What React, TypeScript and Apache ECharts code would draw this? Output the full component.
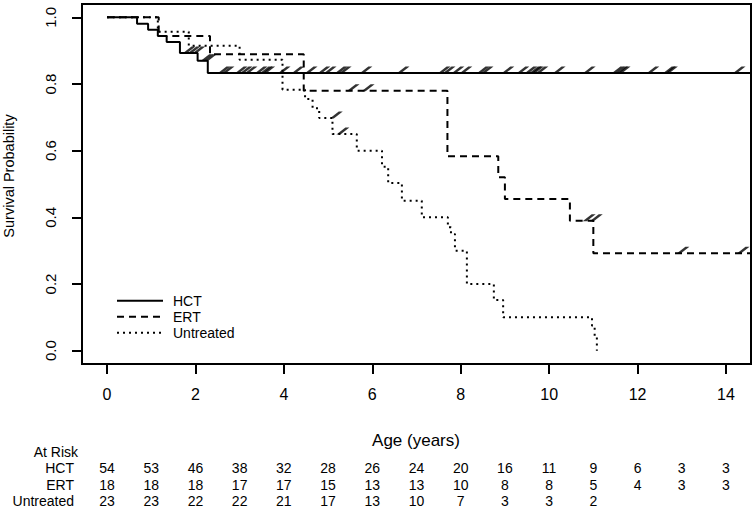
import React, { useEffect, useRef } from "react";
import * as echarts from "echarts";

// ---- Data ----
const xTicks = [0, 2, 4, 6, 8, 10, 12, 14];
const yTicks = [0, 0.2, 0.4, 0.6, 0.8, 1.0];

const hctTimes = [0, 0.68, 0.93, 1.15, 1.35, 1.65, 2.05, 2.28];
const hctSurv = [1.0, 0.981, 0.963, 0.944, 0.926, 0.893, 0.87, 0.833];
const hctCensor = [
  1.72, 1.83, 1.94, 2.12, 2.2, 2.51, 2.6, 2.9, 3.01, 3.12, 3.35, 3.46, 3.52, 3.87,
  4.18, 4.48, 4.77, 4.91, 5.16, 5.25, 5.72, 6.56, 7.49, 7.6, 7.8, 7.98, 8.37, 8.46,
  8.93, 9.27, 9.45, 9.55, 9.6, 9.7, 10.09, 10.77, 11.42, 11.5, 11.56, 12.21, 12.58,
  12.63, 14.16,
];

const ertTimes = [0, 1.17, 2.33, 4.45, 7.7, 8.85, 9.0, 10.47, 11.0];
const ertSurv = [1.0, 0.944, 0.889, 0.78, 0.583, 0.52, 0.455, 0.39, 0.292];
const ertCensor = [5.43, 5.77, 10.77, 10.93, 12.89, 14.25];

const untTimes = [
  0, 1.15, 1.85, 3.0, 3.97, 4.48, 4.65, 4.8, 5.1, 5.65, 6.22, 6.36, 6.67, 7.12, 7.71,
  7.78, 7.87, 8.14, 8.75, 8.96, 10.97, 11.03, 11.08,
];
const untSurv = [
  1.0, 0.957, 0.915, 0.873, 0.783, 0.755, 0.727, 0.698, 0.65, 0.6, 0.552, 0.503, 0.45,
  0.4, 0.37, 0.35, 0.3, 0.2, 0.152, 0.1, 0.075, 0.04, 0.0,
];
const untCensor = [5.05, 5.2];

const riskYears = [0, 1, 2, 3, 4, 5, 6, 7, 8, 9, 10, 11, 12, 13, 14];
const riskHCT = [54, 53, 46, 38, 32, 28, 26, 24, 20, 16, 11, 9, 6, 3, 3];
const riskERT = [18, 18, 18, 17, 17, 15, 13, 13, 10, 8, 8, 5, 4, 3, 3];
const riskUntreated = [23, 23, 22, 22, 21, 17, 13, 10, 7, 3, 3, 2];

const X_MIN = -0.565;
const X_MAX = 14.566;

const FONT = '"Liberation Sans", Arial, Helvetica, sans-serif';

function survAt(times: number[], surv: number[], t: number) {
  let s = surv[0];
  for (let i = 0; i < times.length; i++) {
    if (times[i] <= t) s = surv[i];
  }
  return s;
}

function stepData(times: number[], surv: number[], end?: number) {
  const d = times.map((t, i) => [t, surv[i]]);
  if (end !== undefined) d.push([end, surv[surv.length - 1]]);
  return d;
}

const MARK = "path://M0,7 L9,0 L13,0 L4,7 Z";

export default function App() {
  const ref = useRef<HTMLDivElement>(null);

  useEffect(() => {
    if (!ref.current) return;
    const chart = echarts.init(ref.current, undefined, { renderer: "svg" });

    const lineBase = {
      type: "line",
      step: "end",
      showSymbol: false,
      symbol: "none",
      silent: true,
    };
    const censorBase = {
      type: "scatter",
      symbol: MARK,
      symbolSize: [13, 7],
      symbolOffset: [6, -3],
      itemStyle: { color: "#000" },
      silent: true,
    };

    chart.setOption({
      animation: false,
      grid: {
        left: 82,
        top: 4,
        width: 669,
        height: 360,
        show: true,
        borderColor: "#000",
        borderWidth: 2,
      },
      xAxis: {
        type: "value",
        min: X_MIN,
        max: X_MAX,
        axisLine: { show: false, onZero: false },
        axisTick: {
          show: true,
          inside: false,
          length: 10,
          lineStyle: { color: "#000", width: 2 },
          customValues: xTicks,
        },
        axisLabel: {
          customValues: xTicks,
          margin: 22,
          fontSize: 16,
          color: "#000",
          fontFamily: FONT,
        },
        splitLine: { show: false },
      },
      yAxis: {
        type: "value",
        min: -0.04,
        max: 1.04,
        axisLine: { show: false, onZero: false },
        axisTick: {
          show: true,
          inside: false,
          length: 10,
          lineStyle: { color: "#000", width: 2 },
          customValues: yTicks,
        },
        axisLabel: {
          customValues: yTicks,
          rotate: 90,
          margin: 24,
          fontSize: 15,
          color: "#000",
          fontFamily: FONT,
          formatter: (v: number) => v.toFixed(1),
        },
        splitLine: { show: false },
      },
      series: [
        {
          ...lineBase,
          name: "HCT",
          data: stepData(hctTimes, hctSurv, X_MAX + 1),
          lineStyle: { color: "#000", width: 2, type: "solid" },
        },
        {
          ...lineBase,
          name: "ERT",
          data: stepData(ertTimes, ertSurv, X_MAX + 1),
          lineStyle: { color: "#000", width: 2, type: [7, 5] },
        },
        {
          ...lineBase,
          name: "Untreated",
          data: stepData(untTimes, untSurv),
          lineStyle: { color: "#000", width: 2, type: [2, 4] },
        },
        {
          ...censorBase,
          name: "HCT censored",
          data: hctCensor.map((t) => [t, survAt(hctTimes, hctSurv, t)]),
        },
        {
          ...censorBase,
          name: "ERT censored",
          data: ertCensor.map((t) => [t, survAt(ertTimes, ertSurv, t)]),
        },
        {
          ...censorBase,
          name: "Untreated censored",
          data: untCensor.map((t) => [t, survAt(untTimes, untSurv, t)]),
        },
      ],
    });

    const px = (t: number) => chart.convertToPixel({ xAxisIndex: 0 }, t) as number;
    const gridLeft = 82;
    const gridRight = 82 + 669;
    const graphics: any[] = [];

    const txt = (text: string, x: number, y: number, size: number, align: string, rotation = 0) => ({
      type: "text",
      x,
      y,
      rotation,
      silent: true,
      style: {
        text,
        fill: "#000",
        fontSize: size,
        fontFamily: FONT,
        textAlign: align,
        textVerticalAlign: "middle",
      },
    });

    graphics.push(txt("Age (years)", (gridLeft + gridRight) / 2 - 0.5, 440, 17, "center"));
    graphics.push(txt("Survival Probability", 9, 176, 14.5, "center", Math.PI / 2));

    const legendItems = [
      { label: "HCT", dash: null as number[] | null, y: 300.7 },
      { label: "ERT", dash: [7, 5], y: 316.7 },
      { label: "Untreated", dash: [2, 4], y: 332.7 },
    ];
    legendItems.forEach((it) => {
      graphics.push({
        type: "line",
        silent: true,
        shape: { x1: 117, y1: it.y, x2: 163, y2: it.y },
        style: { stroke: "#000", lineWidth: 2, lineDash: it.dash || undefined },
      });
      graphics.push(txt(it.label, 173, it.y, 14, "left"));
    });

    graphics.push(txt("At Risk", 78, 452, 14, "right"));
    const rows = [
      { label: "HCT", values: riskHCT, y: 468 },
      { label: "ERT", values: riskERT, y: 484.5 },
      { label: "Untreated", values: riskUntreated, y: 501 },
    ];
    rows.forEach((r) => {
      graphics.push(txt(r.label, 74, r.y, 14, "right"));
      r.values.forEach((v, i) => {
        graphics.push(txt(String(v), px(riskYears[i]), r.y, 14, "center"));
      });
    });

    chart.setOption({ graphic: graphics });

    return () => {
      chart.dispose();
    };
  }, []);

  return (
    <div
      ref={ref}
      style={{ position: "fixed", left: 0, top: 0, width: 755, height: 508, background: "#fff" }}
    />
  );
}
